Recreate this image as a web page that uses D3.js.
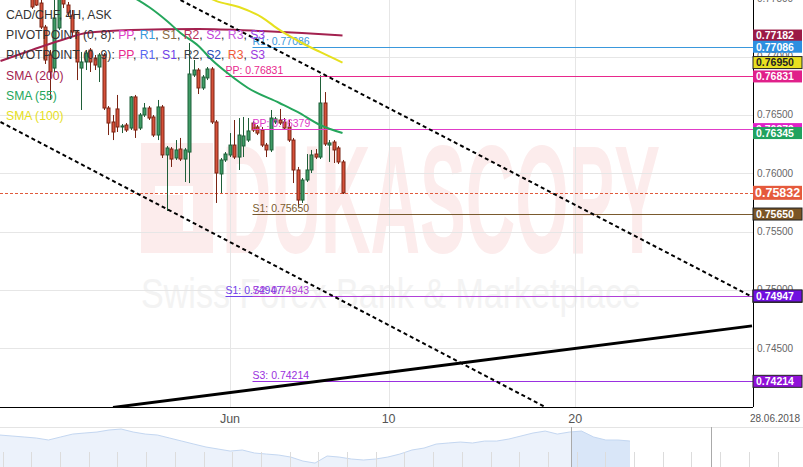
<!DOCTYPE html>
<html><head><meta charset="utf-8">
<script src="https://cdn.jsdelivr.net/npm/d3@7"></script>
<style>body{margin:0;background:#fff;}svg{display:block;font-family:"Liberation Sans",Arial,sans-serif;}</style>
</head><body><svg id="c" width="803" height="467"></svg>
<script>
// ---------- DATA ----------
const firstIndex = -10; // candle index of first visible candle
const open = [0.77522,0.77504,0.77461,0.77255,0.77015,0.76903,0.77247,0.77504,0.77444,0.77358,
0.77212,0.76903,0.76955,0.77058,0.76989,0.76912,0.77015,0.76560,0.76440,0.76552,
0.76397,0.76414,0.76388,0.76655,0.76388,0.76500,0.76560,0.76483,0.76328,0.76569,
0.76157,0.76208,0.76131,0.76208,0.76122,0.76182,0.76843,0.76886,0.76732,0.76818,
0.76895,0.76440,0.75994,0.76114,0.76157,0.76242,0.76139,0.76234,0.76285,0.76431,
0.76397,0.76371,0.76242,0.76200,0.76440,0.76457,0.76440,0.76397,0.76285,0.76028,
0.75770,0.75942,0.76028,0.76165,0.76139,0.76603,0.76242,0.76268,0.76217,0.76097];
const high = [0.77556,0.77539,0.77487,0.77273,0.77058,0.77504,0.77556,0.77539,0.77470,0.77401,
0.77230,0.77041,0.77058,0.77075,0.77015,0.77032,0.77032,0.76577,0.76500,0.76672,
0.76423,0.76431,0.76663,0.76672,0.76517,0.76603,0.76577,0.76500,0.76629,0.76586,
0.76234,0.76225,0.76285,0.76303,0.76217,0.77118,0.76972,0.76903,0.76843,0.76912,
0.76912,0.76457,0.76131,0.76182,0.76345,0.76457,0.76474,0.76483,0.76474,0.76448,
0.76414,0.76397,0.76260,0.76543,0.76483,0.76552,0.76474,0.76457,0.76303,0.76054,
0.75959,0.76165,0.76200,0.76208,0.76843,0.76697,0.76285,0.76285,0.76234,0.76114];
const low = [0.77410,0.77436,0.77238,0.76938,0.76629,0.76869,0.77230,0.77418,0.77350,0.77178,
0.76800,0.76543,0.76886,0.76869,0.76886,0.76783,0.76543,0.76328,0.76285,0.76354,
0.76345,0.76354,0.76371,0.76303,0.76371,0.76483,0.76457,0.76311,0.76285,0.76131,
0.75676,0.76054,0.76114,0.76105,0.75925,0.75916,0.76826,0.76680,0.76715,0.76800,
0.76423,0.75745,0.75830,0.76097,0.76139,0.76122,0.76028,0.76139,0.76268,0.76354,
0.76328,0.76225,0.76139,0.76182,0.76423,0.76414,0.76371,0.76268,0.75916,0.75710,
0.75745,0.75925,0.76002,0.76122,0.76122,0.76234,0.76097,0.76088,0.76079,0.75822];
const close = [0.77427,0.77444,0.77255,0.76972,0.76869,0.77333,0.77522,0.77453,0.77376,0.77212,
0.76955,0.76955,0.77032,0.76955,0.76929,0.77015,0.76560,0.76431,0.76354,0.76397,
0.76406,0.76371,0.76655,0.76371,0.76500,0.76560,0.76474,0.76328,0.76569,0.76157,
0.76217,0.76122,0.76200,0.76122,0.76200,0.76852,0.76886,0.76732,0.76826,0.76895,
0.76440,0.76002,0.76114,0.76165,0.76242,0.76139,0.76328,0.76320,0.76363,0.76371,
0.76345,0.76242,0.76200,0.76474,0.76466,0.76431,0.76388,0.76285,0.76028,0.75770,
0.75942,0.76028,0.76157,0.76139,0.76603,0.76251,0.76260,0.76200,0.76097,0.75832];

const sma200Idx = [-17,-10,-2,2,12,27,41,50,59];
const sma200Val = [0.76963,0.77058,0.77161,0.77204,0.77230,0.77238,0.77221,0.77204,0.77182];
const sma55Idx = [12,16,20,23,27,30,34,38,45,49,54,59];
const sma55Val = [0.77522,0.77427,0.77307,0.77204,0.77092,0.76972,0.76843,0.76732,0.76603,0.76526,0.76414,0.76345];
const sma100Idx = [28,31,36,41,45,50,54,59];
const sma100Val = [0.77530,0.77478,0.77427,0.77341,0.77230,0.77118,0.77041,0.76950];

const upperChannel = [[23,0.77487],[150,0.74940]];
const lowerChannel = [[-17,0.76440],[104,0.73994]];
const supportLine  = [[8,0.73990],[150,0.74690]];

const pivotNames  = ["R1","PP","PP","S1","S1","S2","S3"];
const pivotValues = [0.77086,0.76831,0.76379,0.75650,0.74947,0.74943,0.74214];
const pivotStart  = [39,33,39,39,33,39,39];
const pivotColors = ["#3a98dc","#e8288c","#e03cc8","#7a5a2e","#7040e8","#b040d8","#9a30e0"];

const yTicks = [0.745,0.750,0.755,0.760,0.765,0.770,0.775];
const xTickIdx = [34,69.25,110.7];
const xTickLabels = ["Jun","10","20"];
const lastDateLabel = "28.06.2018";
const currentPrice = 0.75832;

const navValues = [0.7683,0.7669,0.7655,0.7640,0.7612,0.7655,0.7697,0.7712,0.7726,0.7755,
0.7769,0.7726,0.7697,0.7683,0.7640,0.7597,0.7554,0.7512,0.7483,0.7454,
0.7469,0.7426,0.7411,0.7397,0.7368,0.7311,0.7282,0.7383,0.7368,0.7340,
0.7326,0.7340,0.7368,0.7411,0.7469,0.7497,0.7554,0.7569,0.7583,0.7569,
0.7597,0.7597,0.7626,0.7669,0.7712,0.7740,0.7697,0.7726,0.7740,0.7655,
0.7612,0.7612,0.7597];

// ---------- SCALES ----------
const W = 753, H = 407;
const x = d3.scaleLinear().domain([-17.11,150.22]).range([0,W]);
const y = d3.scaleLinear().domain([0.739936,0.774871]).range([H,0]);
const svg = d3.select("#c");
svg.append("defs").append("clipPath").attr("id","plot").append("rect").attr("x",0).attr("y",0).attr("width",W).attr("height",H);

// watermark
const wm = svg.append("g");
wm.append("rect").attr("x",141).attr("y",143).attr("width",72).attr("height",110).attr("fill","#fcecec");
wm.append("rect").attr("x",155).attr("y",186).attr("width",38).attr("height",9).attr("fill","#fff");
wm.append("rect").attr("x",183).attr("y",186).attr("width",10).attr("height",45).attr("fill","#fff");
wm.append("text").attr("x",222).attr("y",253).attr("font-size",154).attr("font-weight","bold")
  .attr("textLength",438).attr("lengthAdjust","spacingAndGlyphs").attr("fill","#fcecec").text("DUKASCOPY");
wm.append("text").attr("x",141).attr("y",308).attr("font-size",42)
  .attr("textLength",500).attr("lengthAdjust","spacingAndGlyphs").attr("fill","#f3f3f3").text("Swiss Forex Bank & Marketplace");

// grid
const grid = svg.append("g").attr("stroke","#e6e6e6").attr("stroke-width",1);
yTicks.forEach(t=>{const yy=Math.round(y(t))+0.5; grid.append("line").attr("x1",0).attr("x2",W).attr("y1",yy).attr("y2",yy);});
xTickIdx.forEach(t=>{const xx=Math.round(x(t))+0.5; grid.append("line").attr("x1",xx).attr("x2",xx).attr("y1",0).attr("y2",H);});

const plot = svg.append("g").attr("clip-path","url(#plot)");

// current price line
plot.append("line").attr("x1",0).attr("x2",W).attr("y1",Math.round(y(currentPrice))+0.5).attr("y2",Math.round(y(currentPrice))+0.5)
  .attr("stroke","#e05a3c").attr("stroke-dasharray","3,2");

// candles
const candles = open.map((o,k)=>({i:firstIndex+k,o,h:high[k],l:low[k],c:close[k]}));
const cg = plot.append("g");
candles.forEach(d=>{
  const up = d.c>=d.o;
  const stroke = up?"#1f5e38":"#7a2414", fill = up?"#3f9c66":"#d6513a";
  const cx = Math.round(x(d.i))+0.5;
  cg.append("line").attr("x1",cx).attr("x2",cx).attr("y1",y(d.h)).attr("y2",y(d.l)).attr("stroke",stroke);
  const top = y(Math.max(d.o,d.c)), bot = y(Math.min(d.o,d.c));
  cg.append("rect").attr("x",cx-1.5).attr("y",top).attr("width",3).attr("height",Math.max(1,bot-top))
    .attr("fill",fill).attr("stroke",stroke).attr("stroke-width",1);
});

// pivot lines
pivotValues.forEach((v,k)=>{
  const yy=Math.round(y(v))+0.5, x0=x(pivotStart[k]);
  plot.append("line").attr("x1",x0).attr("x2",W).attr("y1",yy).attr("y2",yy).attr("stroke",pivotColors[k]).attr("stroke-width",1.2);
  plot.append("text").attr("x",x0).attr("y",yy-2.5).attr("font-size",10.5).attr("fill",pivotColors[k])
    .text(pivotNames[k]+": "+v.toFixed(5));
});

// SMA lines
const line = d3.line().x(d=>x(d[0])).y(d=>y(d[1])).curve(d3.curveMonotoneX);
function sma(idx,val,color){plot.append("path").attr("d",line(idx.map((t,k)=>[t,val[k]]))).attr("fill","none").attr("stroke",color).attr("stroke-width",2);}
sma(sma200Idx,sma200Val,"#a3214f");
sma(sma55Idx,sma55Val,"#25a65c");
sma(sma100Idx,sma100Val,"#e6e01e");

// trend lines
const tl = d3.line().x(d=>x(d[0])).y(d=>y(d[1]));
plot.append("path").attr("d",tl(upperChannel)).attr("stroke","#000").attr("stroke-width",2).attr("stroke-dasharray","4,3").attr("fill","none");
plot.append("path").attr("d",tl(lowerChannel)).attr("stroke","#000").attr("stroke-width",2).attr("stroke-dasharray","4,3").attr("fill","none");
plot.append("path").attr("d",tl(supportLine)).attr("stroke","#000").attr("stroke-width",3).attr("fill","none");

// legend
const lg = svg.append("g").attr("font-size",12.2);
lg.append("text").attr("x",6).attr("y",19).attr("fill","#333").text("CAD/CHF, 4H, ASK");
function pivLegend(yy,label,names,colors){
  const t=lg.append("text").attr("x",6).attr("y",yy).attr("fill","#333");
  t.append("tspan").text(label);
  names.forEach((n,k)=>{t.append("tspan").attr("fill",colors[k]).text(n); if(k<names.length-1) t.append("tspan").attr("fill","#333").text(", ");});
}
const pvNames=["PP","R1","S1","R2","S2","R3","S3"];
pivLegend(39,"PIVOTPOINT (0, 8): ",pvNames,["#e03cc8","#3a98dc","#8a6a3e","#b8305a","#c040d8","#c858e0","#9a40e8"]);
pivLegend(59,"PIVOTPOINT (0, 9): ",pvNames,["#e8288c","#5866f0","#7040e8","#404048","#2a48b8","#f05a3a","#9c38e0"]);
lg.append("text").attr("x",6).attr("y",80).attr("fill","#a3214f").text("SMA (200)");
lg.append("text").attr("x",6).attr("y",100).attr("fill","#25a65c").text("SMA (55)");
lg.append("text").attr("x",6).attr("y",120).attr("fill","#e6e01e").text("SMA (100)");

// axes lines
svg.append("line").attr("x1",W+0.5).attr("x2",W+0.5).attr("y1",0).attr("y2",H).attr("stroke","#000");
svg.append("line").attr("x1",0).attr("x2",W).attr("y1",H+0.5).attr("y2",H+0.5).attr("stroke","#000");

// y tick labels
yTicks.forEach(t=>svg.append("text").attr("x",757).attr("y",y(t)+3.5).attr("font-size",10).attr("fill","#666").text(t.toFixed(5)));

// right labels
const boxes = [
  {v:sma200Val[sma200Val.length-1],bg:"#9b1b46",fg:"#fff"},
  {v:pivotValues[0],bg:"#2d8fe0",fg:"#fff"},
  {v:sma100Val[sma100Val.length-1],bg:"#e8e020",fg:"#222",b:"#222"},
  {v:pivotValues[1],bg:"#e0208a",fg:"#fff"},
  {v:pivotValues[2],bg:"#e020c8",fg:"#fff"},
  {v:sma55Val[sma55Val.length-1],bg:"#21a25e",fg:"#fff"},
  {v:pivotValues[3],bg:"#7a5525",fg:"#fff",b:"#222"},
  {v:pivotValues[5],bg:"#b040d8",fg:"#fff",b:"#222"},
  {v:pivotValues[4],bg:"#7010e0",fg:"#fff",b:"#222"},
  {v:pivotValues[6],bg:"#9010d8",fg:"#fff",b:"#222"},
  {v:currentPrice,bg:"#e55a3c",fg:"#fff",big:true}
];
boxes.forEach(d=>{
  const cy=y(d.v), h=d.big?14:12;
  svg.append("rect").attr("x",753).attr("y",cy-h/2).attr("width",49).attr("height",h).attr("fill",d.bg)
    .attr("stroke",d.b||"none").attr("stroke-width",d.b?1:0);
  svg.append("text").attr("x",d.big?755:756).attr("y",cy+(d.big?4.5:3.8)).attr("font-size",d.big?12.5:10.5)
    .attr("font-weight","bold").attr("fill",d.fg).text(d.v.toFixed(5));
});

// x tick labels
xTickIdx.forEach((t,k)=>svg.append("text").attr("x",x(t)).attr("y",423).attr("text-anchor","middle")
  .attr("font-size",12.5).attr("fill","#555").text(xTickLabels[k]));
svg.append("text").attr("x",800).attr("y",422).attr("text-anchor","end").attr("font-size",10).attr("fill","#555").text(lastDateLabel);

// navigator
const nx = d3.scaleLinear().domain([0,navValues.length-1]).range([0,630]);
const ny = d3.scaleLinear().domain([0.7226,0.7798]).range([467,427]);
svg.append("line").attr("x1",0).attr("x2",803).attr("y1",427.5).attr("y2",427.5).attr("stroke","#e4e4e4");
const area = d3.area().x((d,k)=>nx(k)).y0(467).y1(d=>ny(d));
svg.append("defs").append("clipPath").attr("id","sel").append("rect").attr("x",571).attr("y",427).attr("width",140).attr("height",40);
svg.append("path").attr("d",area(navValues)).attr("fill","#ecf2fb");
svg.append("path").attr("d",area(navValues)).attr("fill","#d9e6f8").attr("clip-path","url(#sel)");
svg.append("path").attr("d",d3.line().x((d,k)=>nx(k)).y(d=>ny(d))(navValues)).attr("fill","none").attr("stroke","#c4d7f1");
const ng = svg.append("g").attr("stroke","#dcdcdc");
d3.range(2.6,803,28.7).forEach(xx=>ng.append("line").attr("x1",Math.round(xx)+0.5).attr("x2",Math.round(xx)+0.5).attr("y1",452).attr("y2",467));
[571,711].forEach(xx=>svg.append("line").attr("x1",xx+0.5).attr("x2",xx+0.5).attr("y1",427).attr("y2",467).attr("stroke","#aaa"));
</script></body></html>
